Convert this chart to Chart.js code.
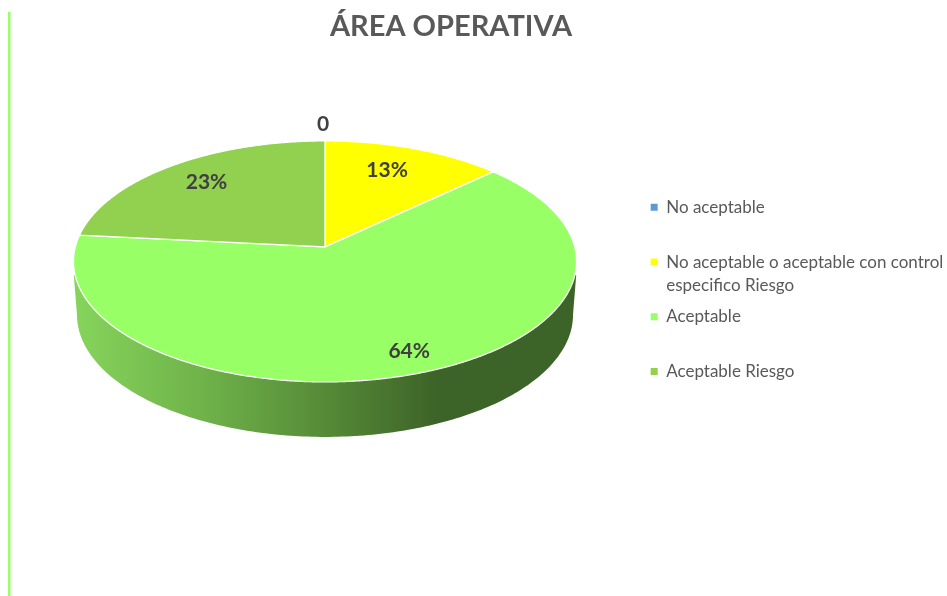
<!DOCTYPE html>
<html>
<head>
<meta charset="utf-8">
<style>html,body{margin:0;padding:0;background:#fff}#w{position:relative;width:947px;height:596px}</style>
<script src="https://cdn.jsdelivr.net/npm/chart.js@4"></script>
</head>
<body>
<div id="w"><canvas id="c" width="947" height="596"></canvas></div>
<script>
const chartTitle = 'ÁREA OPERATIVA';
const categories = ['No aceptable', 'No aceptable o aceptable con control especifico Riesgo', 'Aceptable', 'Aceptable Riesgo'];
const legendLines = [['No aceptable', ''], ['No aceptable o aceptable con control', 'especifico Riesgo'], ['Aceptable', ''], ['Aceptable Riesgo', '']];
const values = [0, 13, 63.6, 23.4];
const dataLabels = ['0', '13%', '64%', '23%'];
const sliceColors = ['#5B9BD5', '#FFFF00', '#99FF66', '#92D050'];

const FONT = 'Lato, "Open Sans", sans-serif';
// perspective of the tilted disc, relative to the library's outer radius
const K = 0.1203, KA = 1.2485, KB = 0.59375;
const LABEL_FRAC = [1.17, 0.74, 0.82, 0.79];
const LABEL_DX = [-2, -4, 10, 3];
const LABEL_DY = [1, -4, 0, -1];

function project(arc, theta) {
  const R = arc.outerRadius, d = 1 + K * Math.cos(theta);
  return {
    x: arc.x + KA * R * Math.sin(theta) / d,
    y: arc.y - KB * R * Math.cos(theta) / d
  };
}

const tiltedPie = {
  id: 'tiltedPie',
  afterLayout(chart) {
    const l = chart.legend;
    l.left = 642; l.right = 947; l.top = 190.2; l.bottom = 420;
    const t = chart.titleBlock;
    t.left = 0; t.right = 902; t.top = 9; t.bottom = 44;
  },
  beforeDraw(chart) {
    const ctx = chart.ctx;
    ctx.save();
    ctx.fillStyle = '#99FF66'; ctx.fillRect(8, 12, 2, 584);
    ctx.fillStyle = '#CCFFB3'; ctx.fillRect(10, 12, 1, 584);
    ctx.restore();
  },
  beforeDatasetDraw(chart, args) {
    const ctx = chart.ctx, arcs = args.meta.data;
    const a0 = arcs[0], R = a0.outerRadius, cx = a0.x, cy = a0.y;
    // side wall
    const g = ctx.createLinearGradient(cx - 250, 0, cx + 110, 0);
    g.addColorStop(0, '#86D45C');
    g.addColorStop(0.35, '#6FB34A');
    g.addColorStop(0.68, '#578C38');
    g.addColorStop(1, '#3D6428');
    ctx.save();
    ctx.fillStyle = g;
    ctx.beginPath();
    const lx = 1.24 * R, ly = 0.61 * R, ldy = 0.34 * R;
    ctx.moveTo(cx - KA * R * 1.006, cy + 0.14 * R);
    for (let t = 0; t <= 180; t += 1) {
      const r = t * Math.PI / 180;
      ctx.lineTo(cx - lx * Math.cos(r), cy + ldy + ly * Math.sin(r));
    }
    ctx.lineTo(cx + KA * R * 1.006, cy + 0.14 * R);
    ctx.lineTo(cx, cy);
    ctx.closePath();
    ctx.fill();
    // top slices
    arcs.forEach((arc, i) => {
      if (!values[i]) return;
      const s = arc.startAngle + Math.PI / 2, e = arc.endAngle + Math.PI / 2;
      ctx.beginPath();
      ctx.moveTo(arc.x, arc.y);
      const n = Math.max(2, Math.ceil((e - s) * 180));
      for (let j = 0; j <= n; j++) {
        const p = project(arc, s + (e - s) * j / n);
        ctx.lineTo(p.x, p.y);
      }
      ctx.closePath();
      ctx.fillStyle = arc.options.backgroundColor;
      ctx.fill();
      ctx.strokeStyle = '#FFFFFF';
      ctx.lineWidth = 1.3;
      ctx.lineJoin = 'round';
      ctx.stroke();
    });
    // data labels
    ctx.fillStyle = '#404040';
    ctx.font = 'bold 21px ' + FONT;
    ctx.textAlign = 'center';
    ctx.textBaseline = 'middle';
    arcs.forEach((arc, i) => {
      const m = (arc.startAngle + arc.endAngle) / 2 + Math.PI / 2;
      const p = project(arc, m);
      const f = LABEL_FRAC[i];
      ctx.fillText(dataLabels[i], arc.x + (p.x - arc.x) * f + LABEL_DX[i], arc.y + (p.y - arc.y) * f + LABEL_DY[i]);
    });
    ctx.restore();
    return false;
  }
};

new Chart(document.getElementById('c'), {
  type: 'pie',
  data: {
    labels: categories,
    datasets: [{ data: values, backgroundColor: sliceColors, borderWidth: 0 }]
  },
  plugins: [tiltedPie],
  options: {
    responsive: false,
    animation: false,
    layout: { padding: { left: 125, right: 422, top: 0, bottom: 149 } },
    plugins: {
      tooltip: { enabled: false },
      title: {
        display: true, text: chartTitle, color: '#595959',
        font: { family: FONT, size: 29, weight: 'bold', lineHeight: 1.2 },
        padding: { top: 0, bottom: 12 }
      },
      legend: {
        position: 'chartArea', align: 'start',
        labels: {
          boxWidth: 7, boxHeight: 7, padding: 8.67, color: '#595959',
          font: { family: FONT, size: 17, lineHeight: '23px' },
          generateLabels(chart) {
            return legendLines.map((text, i) => ({
              text, fillStyle: sliceColors[i], strokeStyle: sliceColors[i], lineWidth: 0, index: i, hidden: false, fontColor: '#595959'
            }));
          }
        }
      }
    }
  }
});
</script>
</body>
</html>
